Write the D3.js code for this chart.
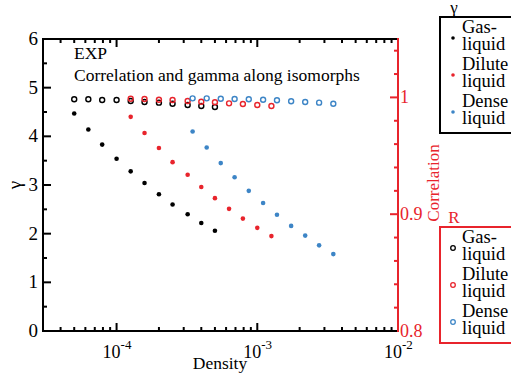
<!DOCTYPE html>
<html><head><meta charset="utf-8">
<script src="https://cdn.jsdelivr.net/npm/d3@7"></script>
<style>body{margin:0;background:#fff}svg{display:block}</style>
</head><body><svg id="c" width="511" height="380" font-family="'Liberation Serif', 'DejaVu Serif', 'Times New Roman', serif"></svg>
<script>
const RED = "#e8242c", BLUE = "#3d85c6";
const seriesNames = ["Gas-liquid", "Dilute liquid", "Dense liquid"];
const seriesColors = ["#000000", RED, BLUE];
const gasDensity = [5.0e-5, 6.3e-5, 7.9e-5, 1.0e-4, 1.26e-4, 1.58e-4, 2.0e-4, 2.5e-4, 3.2e-4, 4.0e-4, 5.0e-4];
const gasGamma = [4.47, 4.14, 3.83, 3.54, 3.28, 3.04, 2.81, 2.60, 2.40, 2.22, 2.06];
const gasCorr = [0.9984, 0.9984, 0.9978, 0.9978, 0.9969, 0.9961, 0.9955, 0.9946, 0.9935, 0.9926, 0.9918];
const diluteDensity = [1.26e-4, 1.58e-4, 2.0e-4, 2.5e-4, 3.2e-4, 4.0e-4, 5.0e-4, 6.3e-4, 7.9e-4, 1.0e-3, 1.26e-3];
const diluteGamma = [4.40, 4.07, 3.76, 3.47, 3.21, 2.96, 2.73, 2.51, 2.31, 2.12, 1.95];
const diluteCorr = [0.9989, 0.9986, 0.9980, 0.9978, 0.9969, 0.9963, 0.9958, 0.9949, 0.9943, 0.9935, 0.9926];
const denseDensity = [3.47e-4, 4.37e-4, 5.5e-4, 6.9e-4, 8.7e-4, 1.1e-3, 1.38e-3, 1.74e-3, 2.19e-3, 2.75e-3, 3.47e-3];
const denseGamma = [4.10, 3.77, 3.45, 3.16, 2.88, 2.63, 2.39, 2.16, 1.96, 1.76, 1.58];
const denseCorr = [0.9992, 0.9992, 0.9989, 0.9986, 0.9984, 0.9980, 0.9975, 0.9967, 0.9961, 0.9955, 0.9946];
const gammaTicks = [0, 1, 2, 3, 4, 5, 6];
const corrTicks = [0.8, 0.9, 1];
const densityTicks = [1e-4, 1e-3, 1e-2];
const densityTickLabels = ["-4", "-3", "-2"];

const series = [
  {name: seriesNames[0], color: seriesColors[0], x: gasDensity, g: gasGamma, r: gasCorr},
  {name: seriesNames[1], color: seriesColors[1], x: diluteDensity, g: diluteGamma, r: diluteCorr},
  {name: seriesNames[2], color: seriesColors[2], x: denseDensity, g: denseGamma, r: denseCorr}
];

const svg = d3.select("#c");
const L = 43, R = 398, T = 39, B = 331;
const x = d3.scaleLog().domain([3e-5, 1e-2]).range([L, R]);
const y = d3.scaleLinear().domain([0, 6]).range([B, T]);
const y2 = d3.scaleLinear().domain([0.8, 1.05]).range([B, T]);

const minorX = [];
for (let e = -5; e <= -3; e++) for (let m = 2; m <= 9; m++) { const v = m * Math.pow(10, e); if (v >= 3e-5 && v <= 1e-2) minorX.push(v); }

const gAx = svg.append("g");
gAx.selectAll(".bmin").data(minorX).join("line").attr("x1", d => x(d)).attr("x2", d => x(d)).attr("y1", B).attr("y2", B - 4).attr("stroke", "#000").attr("stroke-width", 2);
gAx.selectAll(".bmaj").data(densityTicks).join("line").attr("x1", d => x(d)).attr("x2", d => x(d)).attr("y1", B).attr("y2", B - 8).attr("stroke", "#000").attr("stroke-width", 2);
gAx.selectAll(".tmin").data(minorX).join("line").attr("x1", d => x(d)).attr("x2", d => x(d)).attr("y1", T).attr("y2", T + 4).attr("stroke", "#000").attr("stroke-width", 2);
gAx.selectAll(".tmaj").data(densityTicks).join("line").attr("x1", d => x(d)).attr("x2", d => x(d)).attr("y1", T).attr("y2", T + 8).attr("stroke", "#000").attr("stroke-width", 2);
const minorY = d3.range(0.5, 6, 1);
gAx.selectAll(".lmin").data(minorY).join("line").attr("x1", L).attr("x2", L + 4).attr("y1", d => y(d)).attr("y2", d => y(d)).attr("stroke", "#000").attr("stroke-width", 2);
gAx.selectAll(".lmaj").data(gammaTicks).join("line").attr("x1", L).attr("x2", L + 8).attr("y1", d => y(d)).attr("y2", d => y(d)).attr("stroke", "#000").attr("stroke-width", 2);
const minorY2 = [0.82, 0.84, 0.86, 0.88, 0.92, 0.94, 0.96, 0.98, 1.02, 1.04];
gAx.selectAll(".rmin").data(minorY2).join("line").attr("x1", R).attr("x2", R - 4).attr("y1", d => y2(d)).attr("y2", d => y2(d)).attr("stroke", RED).attr("stroke-width", 2);
gAx.selectAll(".rmaj").data(corrTicks).join("line").attr("x1", R).attr("x2", R - 8).attr("y1", d => y2(d)).attr("y2", d => y2(d)).attr("stroke", RED).attr("stroke-width", 2);

gAx.append("line").attr("x1", L).attr("x2", R).attr("y1", T).attr("y2", T).attr("stroke", "#000").attr("stroke-width", 2);
gAx.append("line").attr("x1", L).attr("x2", R).attr("y1", B).attr("y2", B).attr("stroke", "#000").attr("stroke-width", 2);
gAx.append("line").attr("x1", L).attr("x2", L).attr("y1", T - 1).attr("y2", B + 1).attr("stroke", "#000").attr("stroke-width", 2);
gAx.append("line").attr("x1", R).attr("x2", R).attr("y1", T - 1).attr("y2", B + 1).attr("stroke", RED).attr("stroke-width", 2);

svg.selectAll(".ylab").data(gammaTicks).join("text").attr("x", L - 5).attr("y", d => y(d) + 6).attr("text-anchor", "end").attr("font-size", 19).text(d => d);
svg.selectAll(".y2lab").data(corrTicks).join("text").attr("x", R + 2).attr("y", d => y2(d) + 6).attr("fill", RED).attr("font-size", 18).text(d => d);
const xl = svg.selectAll(".xlab").data(densityTicks).join("text").attr("x", d => x(d) - 14).attr("y", 358).attr("font-size", 18);
xl.append("tspan").text("10");
xl.append("tspan").attr("dy", -9).attr("font-size", 13).text((d, i) => densityTickLabels[i]);

svg.append("text").attr("x", 220).attr("y", 369).attr("text-anchor", "middle").attr("font-size", 17.5).text("Density");
svg.append("text").attr("transform", "translate(21,185) rotate(-90)").attr("text-anchor", "middle").attr("font-size", 19).text("γ");
svg.append("text").attr("transform", "translate(439,183) rotate(-90)").attr("text-anchor", "middle").attr("font-size", 17).attr("fill", RED).text("Correlation");

svg.append("text").attr("x", 74).attr("y", 59).attr("font-size", 17.5).text("EXP");
svg.append("text").attr("x", 74).attr("y", 81).attr("font-size", 17.5).text("Correlation and gamma along isomorphs");

const pts = svg.append("g");
series.forEach(s => {
  pts.selectAll(null).data(s.x.map((v, i) => [v, s.r[i]])).join("circle")
    .attr("cx", d => x(d[0])).attr("cy", d => y2(d[1])).attr("r", 2.5)
    .attr("fill", "none").attr("stroke", s.color).attr("stroke-width", 1.4);
});
series.forEach(s => {
  pts.selectAll(null).data(s.x.map((v, i) => [v, s.g[i]])).join("circle")
    .attr("cx", d => x(d[0])).attr("cy", d => y(d[1])).attr("r", 2.3)
    .attr("fill", s.color);
});

function legend(top, bottom, title, color, filled) {
  const g = svg.append("g");
  g.append("text").attr("x", 454).attr("y", top - 4).attr("text-anchor", "middle").attr("font-size", 17).attr("fill", color).text(title);
  g.append("rect").attr("x", 440).attr("y", top).attr("width", 90).attr("height", bottom - top).attr("fill", "#fff").attr("stroke", color).attr("stroke-width", 2);
  series.forEach((s, i) => {
    const yy = top + 20 + i * 37;
    const words = s.name.split(" ");
    const first = words[0] === "Gas-liquid" ? "Gas-" : words[0];
    g.append("text").attr("x", 462).attr("y", yy - 4).attr("font-size", 18.5).text(first);
    g.append("text").attr("x", 462).attr("y", yy + 13).attr("font-size", 18.5).text("liquid");
    const c = g.append("circle").attr("cx", 453).attr("cy", yy + 1);
    if (filled) c.attr("r", 1.8).attr("fill", s.color);
    else c.attr("r", 2.3).attr("fill", "none").attr("stroke", s.color).attr("stroke-width", 1.3);
  });
}
legend(17, 133, "γ", "#000", true);
legend(227, 343, "R", RED, false);
</script></body></html>
